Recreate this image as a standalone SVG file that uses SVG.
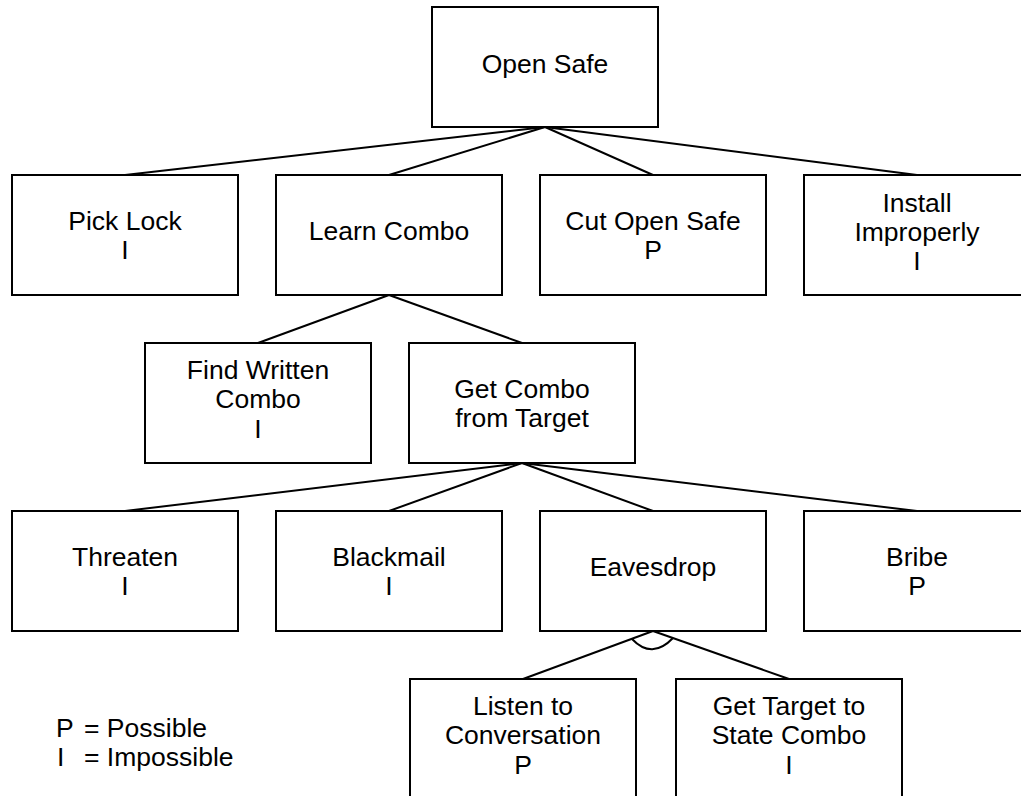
<svg xmlns="http://www.w3.org/2000/svg" width="1021" height="796" viewBox="0 0 1021 796">
<style>
.box{fill:#fff;stroke:#000;stroke-width:2}
.t{font-family:"Liberation Sans",Arial,sans-serif;font-size:26.5px;fill:#000;text-anchor:middle}
.lg{font-family:"Liberation Sans",Arial,sans-serif;font-size:26.5px;fill:#000}
.c{stroke:#000;stroke-width:2;fill:none}
</style>
<rect width="1021" height="796" fill="#fff"/>
<g id="connectors">
<line class="c" x1="545" y1="127" x2="125" y2="175"/>
<line class="c" x1="545" y1="127" x2="389" y2="175"/>
<line class="c" x1="545" y1="127" x2="653" y2="175"/>
<line class="c" x1="545" y1="127" x2="917" y2="175"/>
<line class="c" x1="389" y1="295" x2="258" y2="343"/>
<line class="c" x1="389" y1="295" x2="522" y2="343"/>
<line class="c" x1="522" y1="463" x2="125" y2="511"/>
<line class="c" x1="522" y1="463" x2="389" y2="511"/>
<line class="c" x1="522" y1="463" x2="653" y2="511"/>
<line class="c" x1="522" y1="463" x2="917" y2="511"/>
<line class="c" x1="653" y1="631" x2="523" y2="679"/>
<line class="c" x1="653" y1="631" x2="789" y2="679"/>
<path class="c" d="M632,639 Q652,660 673,638"/>
</g>
<g id="open-safe"><rect class="box" x="432" y="7" width="226" height="120"/><text class="t" x="545" y="73">Open Safe</text></g>
<g id="pick-lock"><rect class="box" x="12" y="175" width="226" height="120"/><text class="t" x="125" y="230">Pick Lock</text><text class="t" x="125" y="259">I</text></g>
<g id="learn-combo"><rect class="box" x="276" y="175" width="226" height="120"/><text class="t" x="389" y="240">Learn Combo</text></g>
<g id="cut-open-safe"><rect class="box" x="540" y="175" width="226" height="120"/><text class="t" x="653" y="230">Cut Open Safe</text><text class="t" x="653" y="259">P</text></g>
<g id="install-improperly"><rect class="box" x="804" y="175" width="226" height="120"/><text class="t" x="917" y="212">Install</text><text class="t" x="917" y="241">Improperly</text><text class="t" x="917" y="270">I</text></g>
<g id="find-written-combo"><rect class="box" x="145" y="343" width="226" height="120"/><text class="t" x="258" y="379">Find Written</text><text class="t" x="258" y="408">Combo</text><text class="t" x="258" y="438">I</text></g>
<g id="get-combo-from-target"><rect class="box" x="409" y="343" width="226" height="120"/><text class="t" x="522" y="398">Get Combo</text><text class="t" x="522" y="427">from Target</text></g>
<g id="threaten"><rect class="box" x="12" y="511" width="226" height="120"/><text class="t" x="125" y="566">Threaten</text><text class="t" x="125" y="595">I</text></g>
<g id="blackmail"><rect class="box" x="276" y="511" width="226" height="120"/><text class="t" x="389" y="566">Blackmail</text><text class="t" x="389" y="595">I</text></g>
<g id="eavesdrop"><rect class="box" x="540" y="511" width="226" height="120"/><text class="t" x="653" y="576">Eavesdrop</text></g>
<g id="bribe"><rect class="box" x="804" y="511" width="226" height="120"/><text class="t" x="917" y="566">Bribe</text><text class="t" x="917" y="595">P</text></g>
<g id="listen-to-conversation"><rect class="box" x="410" y="679" width="226" height="130"/><text class="t" x="523" y="715">Listen to</text><text class="t" x="523" y="744">Conversation</text><text class="t" x="523" y="774">P</text></g>
<g id="get-target-to-state-combo"><rect class="box" x="676" y="679" width="226" height="130"/><text class="t" x="789" y="715">Get Target to</text><text class="t" x="789" y="744">State Combo</text><text class="t" x="789" y="774">I</text></g>
<g id="legend">
<text class="lg" x="56" y="737">P</text><text class="lg" x="84" y="737">= Possible</text>
<text class="lg" x="57" y="766">I</text><text class="lg" x="84" y="766">= Impossible</text>
</g>
</svg>
